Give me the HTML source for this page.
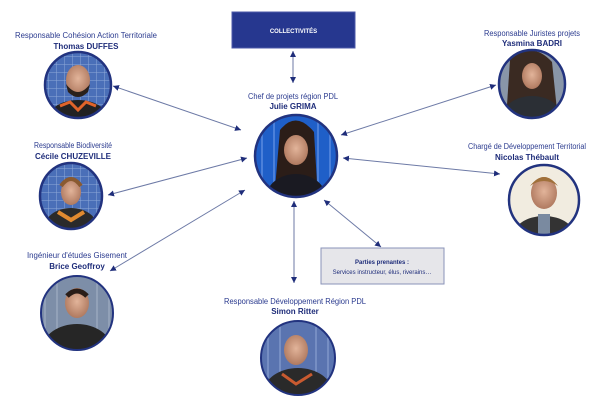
<!DOCTYPE html>
<html><head><meta charset="utf-8"><style>
html,body{margin:0;padding:0;background:#fff;}
svg{display:block;font-family:"Liberation Sans",sans-serif;}
.t{fill:#2b3b8f;font-size:8px;}
.b{fill:#1f2d7a;font-size:8px;font-weight:bold;}
.l{stroke:#6d7aa6;stroke-width:1;fill:none;}
</style></head><body>
<svg width="600" height="420" viewBox="0 0 600 420" xmlns="http://www.w3.org/2000/svg">
<defs>
<marker id="a" markerWidth="8" markerHeight="8" refX="6" refY="3" orient="auto-start-reverse" markerUnits="userSpaceOnUse"><path d="M0,0 L6,3 L0,6 z" fill="#1f2d7a"/></marker>
<pattern id="pan" width="8" height="8" patternUnits="userSpaceOnUse"><rect width="8" height="8" fill="#4a6fb8"/><path d="M0,0H8M0,0V8" stroke="#8fa8d8" stroke-width="1"/></pattern>
<radialGradient id="skin" cx="50%" cy="45%" r="55%"><stop offset="0" stop-color="#e2b49a"/><stop offset="1" stop-color="#b07a60"/></radialGradient>
</defs>

<!-- connectors -->
<line class="l" x1="293" y1="51" x2="293" y2="83" marker-start="url(#a)" marker-end="url(#a)"/>
<line class="l" x1="113" y1="86" x2="241" y2="130" marker-start="url(#a)" marker-end="url(#a)"/>
<line class="l" x1="496" y1="85" x2="341" y2="135" marker-start="url(#a)" marker-end="url(#a)"/>
<line class="l" x1="108" y1="195" x2="247" y2="158" marker-start="url(#a)" marker-end="url(#a)"/>
<line class="l" x1="343" y1="158" x2="500" y2="174" marker-start="url(#a)" marker-end="url(#a)"/>
<line class="l" x1="245" y1="190" x2="110" y2="271" marker-start="url(#a)" marker-end="url(#a)"/>
<line class="l" x1="294" y1="201" x2="294" y2="283" marker-start="url(#a)" marker-end="url(#a)"/>
<line class="l" x1="324" y1="200" x2="381" y2="247" marker-start="url(#a)" marker-end="url(#a)"/>

<!-- boxes -->
<rect x="232" y="12" width="123" height="36" fill="#26378f" stroke="#4c5aa8" stroke-width="1"/>
<text x="293.5" y="33" text-anchor="middle" fill="#fff" font-size="6" font-weight="bold">COLLECTIVITÉS</text>
<rect x="321" y="248" width="123" height="36" fill="#e6e6ea" stroke="#8a93b8" stroke-width="1"/>
<text x="382" y="264" text-anchor="middle" fill="#1f2d7a" font-size="6" font-weight="bold">Parties prenantes :</text>
<text x="382" y="274" text-anchor="middle" fill="#1f2d7a" font-size="6">Services instructeur, élus, riverains…</text>

<!-- labels -->
<text class="t" x="86" y="38" text-anchor="middle" textLength="142" lengthAdjust="spacingAndGlyphs">Responsable Cohésion Action Territoriale</text>
<text class="b" x="86" y="49" text-anchor="middle">Thomas DUFFES</text>
<text class="t" x="532" y="36" text-anchor="middle" textLength="96" lengthAdjust="spacingAndGlyphs">Responsable Juristes projets</text>
<text class="b" x="532" y="46" text-anchor="middle">Yasmina BADRI</text>
<text class="t" x="293" y="99" text-anchor="middle" textLength="90" lengthAdjust="spacingAndGlyphs">Chef de projets région PDL</text>
<text class="b" x="293" y="109" text-anchor="middle">Julie GRIMA</text>
<text class="t" x="73" y="148" text-anchor="middle" textLength="78" lengthAdjust="spacingAndGlyphs">Responsable Biodiversité</text>
<text class="b" x="73" y="159" text-anchor="middle">Cécile CHUZEVILLE</text>
<text class="t" x="527" y="149" text-anchor="middle" textLength="118" lengthAdjust="spacingAndGlyphs">Chargé de Développement Territorial</text>
<text class="b" x="527" y="160" text-anchor="middle">Nicolas Thébault</text>
<text class="t" x="77" y="258" text-anchor="middle" textLength="100" lengthAdjust="spacingAndGlyphs">Ingénieur d'études Gisement</text>
<text class="b" x="77" y="269" text-anchor="middle">Brice Geoffroy</text>
<text class="t" x="295" y="304" text-anchor="middle" textLength="142" lengthAdjust="spacingAndGlyphs">Responsable Développement Région PDL</text>
<text class="b" x="295" y="314" text-anchor="middle">Simon Ritter</text>

<!-- photos -->
<g id="p1">
<clipPath id="c1"><ellipse cx="78" cy="85" rx="33" ry="33"/></clipPath>
<g clip-path="url(#c1)"><rect x="40" y="50" width="80" height="70" fill="url(#pan)"/><ellipse cx="78" cy="80" rx="12" ry="15" fill="url(#skin)"/><path d="M66,84 Q78,100 90,84 L88,92 Q78,102 68,92z" fill="#2a211c"/><ellipse cx="78" cy="122" rx="32" ry="22" fill="#222"/><path d="M60,106 L70,102 L78,110 L86,102 L96,106" stroke="#e0642a" stroke-width="3" fill="none"/></g>
<ellipse cx="78" cy="85" rx="33" ry="33" fill="none" stroke="#22337f" stroke-width="2.5"/>
</g>
<g>
<clipPath id="c2"><ellipse cx="532" cy="84" rx="33" ry="34"/></clipPath>
<g clip-path="url(#c2)"><rect x="495" y="48" width="75" height="75" fill="#8996a8"/><path d="M510,60 Q532,40 552,62 L558,120 L506,120z" fill="#3a2a22"/><ellipse cx="532" cy="76" rx="10" ry="13" fill="url(#skin)"/><ellipse cx="532" cy="118" rx="30" ry="22" fill="#2b2f35"/></g>
<ellipse cx="532" cy="84" rx="33" ry="34" fill="none" stroke="#22337f" stroke-width="2.5"/>
</g>
<g>
<clipPath id="c3"><ellipse cx="296" cy="156" rx="41" ry="41"/></clipPath>
<g clip-path="url(#c3)"><rect x="250" y="110" width="95" height="95" fill="#1f5fc8"/><path d="M262,110V200M274,110V200M318,110V200M330,110V200" stroke="#5a8be0" stroke-width="1.5"/><path d="M280,130 Q296,110 314,132 L318,200 L274,200z" fill="#2b1d18"/><ellipse cx="296" cy="150" rx="12" ry="15" fill="url(#skin)"/><ellipse cx="296" cy="198" rx="30" ry="24" fill="#1a1a22"/></g>
<ellipse cx="296" cy="156" rx="41" ry="41" fill="none" stroke="#22337f" stroke-width="2.5"/>
</g>
<g>
<clipPath id="c4"><ellipse cx="71" cy="196" rx="31" ry="33"/></clipPath>
<g clip-path="url(#c4)"><rect x="35" y="160" width="75" height="75" fill="url(#pan)"/><ellipse cx="71" cy="192" rx="10" ry="13" fill="url(#skin)"/><path d="M61,186 Q71,172 81,186" stroke="#8a5a30" stroke-width="4" fill="none"/><ellipse cx="71" cy="230" rx="28" ry="22" fill="#2a2a2a"/><path d="M58,212 L71,220 L84,212" stroke="#e08a30" stroke-width="4" fill="none"/></g>
<ellipse cx="71" cy="196" rx="31" ry="33" fill="none" stroke="#22337f" stroke-width="2.5"/>
</g>
<g>
<clipPath id="c5"><ellipse cx="544" cy="200" rx="35" ry="35"/></clipPath>
<g clip-path="url(#c5)"><rect x="505" y="162" width="80" height="80" fill="#f1ece0"/><ellipse cx="544" cy="193" rx="13" ry="16" fill="url(#skin)"/><path d="M530,186 Q544,168 558,186 Q544,176 530,186z" fill="#a0703a"/><ellipse cx="544" cy="238" rx="32" ry="22" fill="#333"/><rect x="538" y="214" width="12" height="25" fill="#7a8aa0"/></g>
<ellipse cx="544" cy="200" rx="35" ry="35" fill="none" stroke="#22337f" stroke-width="2.5"/>
</g>
<g>
<clipPath id="c6"><ellipse cx="77" cy="313" rx="36" ry="37"/></clipPath>
<g clip-path="url(#c6)"><rect x="38" y="274" width="80" height="80" fill="#7d8ea8"/><path d="M45,274V354M57,274V354M97,274V354M109,274V354" stroke="#a8b4c8"/><ellipse cx="77" cy="303" rx="12" ry="15" fill="url(#skin)"/><path d="M67,296 Q77,286 87,296" stroke="#2a1d18" stroke-width="5" fill="none"/><ellipse cx="77" cy="348" rx="34" ry="24" fill="#262626"/></g>
<ellipse cx="77" cy="313" rx="36" ry="37" fill="none" stroke="#22337f" stroke-width="2"/>
</g>
<g>
<clipPath id="c7"><ellipse cx="298" cy="358" rx="37" ry="37"/></clipPath>
<g clip-path="url(#c7)"><rect x="258" y="318" width="80" height="80" fill="#5a74b0"/><path d="M268,318V398M280,318V398M316,318V398M328,318V398" stroke="#93a8d6"/><ellipse cx="296" cy="350" rx="12" ry="15" fill="url(#skin)"/><ellipse cx="298" cy="392" rx="34" ry="24" fill="#2a2a2a"/><path d="M282,374 L296,384 L312,374" stroke="#c85a30" stroke-width="3" fill="none"/></g>
<ellipse cx="298" cy="358" rx="37" ry="37" fill="none" stroke="#22337f" stroke-width="2"/>
</g>
</svg>
</body></html>
